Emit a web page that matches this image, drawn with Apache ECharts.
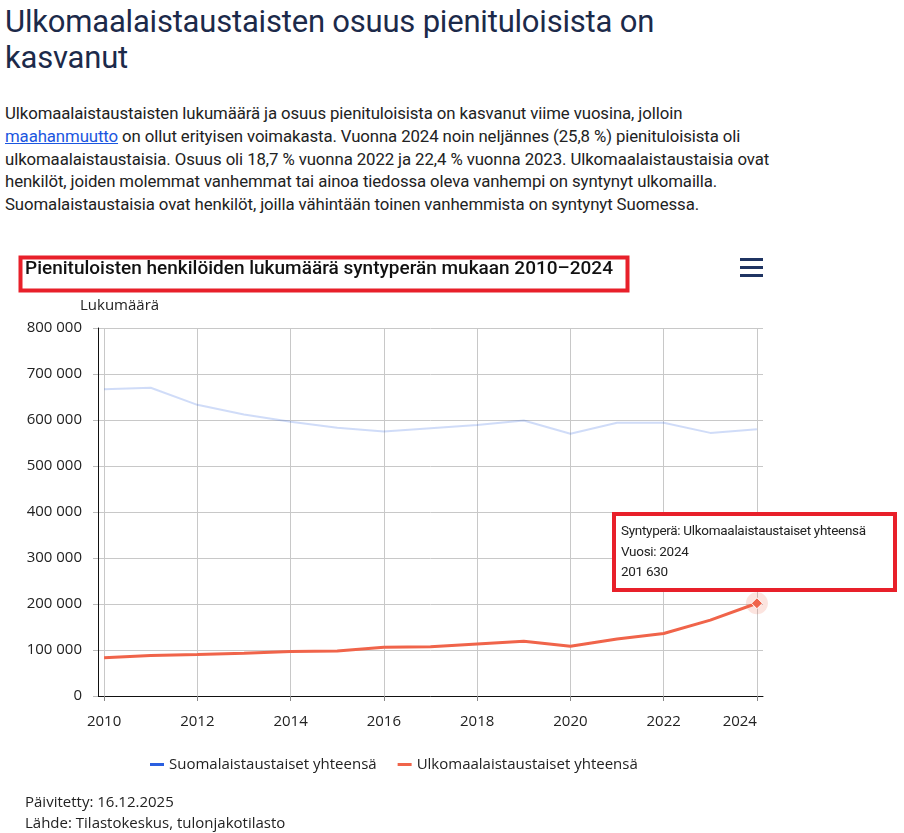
<!DOCTYPE html>
<html>
<head>
<meta charset="utf-8">
<script src="https://cdn.jsdelivr.net/npm/echarts@6/dist/echarts.min.js"></script>
<style>
  html,body{margin:0;padding:0;background:#fff;width:904px;height:833px;overflow:hidden;}
  #h1{position:absolute;left:5px;top:4px;margin:0;font-family:Roboto,sans-serif;font-weight:400;font-size:31px;line-height:36px;color:#1c2a4a;white-space:nowrap;letter-spacing:-0.2px;}
  #p{position:absolute;left:5px;top:102px;margin:0;font-family:Roboto,sans-serif;font-size:16.8px;line-height:22.8px;color:#222;white-space:nowrap;letter-spacing:-0.1px;}
  #p a{color:#1a56e0;text-decoration:underline;}
  #chart{position:absolute;left:0;top:240px;width:904px;height:593px;}
</style>
</head>
<body>
<h1 id="h1">Ulkomaalaistaustaisten osuus pienituloisista on<br>kasvanut</h1>
<p id="p">Ulkomaalaistaustaisten lukumäärä ja osuus pienituloisista on kasvanut viime vuosina, jolloin<br><a href="#">maahanmuutto</a> on ollut erityisen voimakasta. Vuonna 2024 noin neljännes (25,8 %) pienituloisista oli<br>ulkomaalaistaustaisia. Osuus oli 18,7 % vuonna 2022 ja 22,4 % vuonna 2023. Ulkomaalaistaustaisia ovat<br>henkilöt, joiden molemmat vanhemmat tai ainoa tiedossa oleva vanhempi on syntynyt ulkomailla.<br>Suomalaistaustaisia ovat henkilöt, joilla vähintään toinen vanhemmista on syntynyt Suomessa.</p>
<div id="chart"></div>
<script>
const years = [2010, 2011, 2012, 2013, 2014, 2015, 2016, 2017, 2018, 2019, 2020, 2021, 2022, 2023, 2024];
const suomalaiset = [667000, 670000, 633000, 612000, 596000, 583000, 575000, 582000, 589000, 599000, 570000, 594000, 594000, 572000, 580000];
const ulkomaalaiset = [83000, 88000, 90000, 93000, 97000, 98000, 106000, 107000, 113000, 119000, 108000, 124000, 136000, 165000, 201630];
const seriesNames = ['Suomalaistaustaiset yhteensä', 'Ulkomaalaistaustaiset yhteensä'];
const xTickYears = [2010, 2012, 2014, 2016, 2018, 2020, 2022, 2024];
const chartTitle = 'Pienituloisten henkilöiden lukumäärä syntyperän mukaan 2010–2024';
const yAxisName = 'Lukumäärä';
const footerLines = ['Päivitetty: 16.12.2025', 'Lähde: Tilastokeskus, tulonjakotilasto'];

const BLUE = '#2a5fe0', ORANGE = '#f0644a';
const fmt = v => String(Math.round(v)).replace(/\B(?=(\d{3})+(?!\d))/g, ' ');
const pairs = arr => arr.map((v, i) => [years[i], v]);
const last = years.length - 1;

const chart = echarts.init(document.getElementById('chart'));
const axisFont = {fontFamily: '"Open Sans", sans-serif', fontSize: 15, color: '#222'};

chart.setOption({
  animation: false,
  grid: {left: 98, right: 141, top: 88, bottom: 137},
  tooltip: {
    trigger: 'item',
    alwaysShowContent: true,
    transitionDuration: 0,
    backgroundColor: '#fff',
    borderColor: '#e8202a',
    borderWidth: 4,
    padding: [4, 5],
    textStyle: {fontFamily: 'Roboto, sans-serif', fontSize: 13.5, color: '#222', lineHeight: 20},
    extraCssText: 'width:285px;height:80px;box-sizing:border-box;border-radius:0;box-shadow:none;line-height:20.5px;letter-spacing:-0.3px;',
    position: () => [612, 272],
    formatter: p => 'Syntyperä: ' + p.seriesName + '<br>Vuosi: ' + p.value[0] + '<br>' + fmt(p.value[1])
  },
  legend: {
    left: 145, top: 512,
    icon: 'rect', itemWidth: 14, itemHeight: 3, itemGap: 21,
    textStyle: {fontFamily: '"Open Sans", sans-serif', fontSize: 15, color: '#222'},
    data: [
      {name: seriesNames[0], itemStyle: {color: BLUE, opacity: 1}},
      {name: seriesNames[1], itemStyle: {color: ORANGE, opacity: 1}}
    ]
  },
  xAxis: {
    type: 'value',
    min: 2009.87, max: 2024.13,
    splitNumber: 7,
    axisLine: {show: true, lineStyle: {color: '#111', width: 1}},
    axisTick: {show: true, length: 5, lineStyle: {color: '#888'}, customValues: xTickYears},
    axisLabel: Object.assign({margin: 18, customValues: xTickYears, alignMaxLabel: 'right', formatter: v => String(v)}, axisFont),
    splitLine: {show: true, showMinLine: true, showMaxLine: true, lineStyle: {color: '#c8c8c8', width: 1}}
  },
  yAxis: {
    type: 'value',
    min: 0, max: 800000, interval: 100000,
    name: yAxisName,
    nameLocation: 'end',
    nameGap: 15,
    nameTextStyle: {fontFamily: '"Open Sans", sans-serif', fontSize: 15, color: '#222', align: 'left', padding: [0, 0, 0, -18]},
    axisLine: {show: true, lineStyle: {color: '#111', width: 1}},
    axisTick: {show: true, length: 5, lineStyle: {color: '#bbb'}},
    axisLabel: Object.assign({margin: 16, formatter: v => fmt(v)}, axisFont),
    splitLine: {show: true, lineStyle: {color: '#c8c8c8', width: 1}}
  },
  series: [
    {
      name: seriesNames[0], type: 'line', data: pairs(suomalaiset),
      showSymbol: false, symbol: 'none',
      itemStyle: {color: BLUE},
      lineStyle: {color: BLUE, width: 2, opacity: 0.22}
    },
    {
      name: 'halo', type: 'scatter', data: [[years[last], ulkomaalaiset[last]]],
      symbol: 'circle', symbolSize: 22, silent: true, tooltip: {show: false},
      itemStyle: {color: 'rgba(240,100,74,0.22)'}, z: 3
    },
    {
      name: seriesNames[1], type: 'line',
      data: pairs(ulkomaalaiset).map((d, i) => i === last ? {value: d, symbol: 'diamond', symbolSize: 11, itemStyle: {color: ORANGE, borderColor: '#fff', borderWidth: 1}} : {value: d, symbol: 'none'}),
      showSymbol: true, showAllSymbol: true,
      itemStyle: {color: ORANGE},
      lineStyle: {color: ORANGE, width: 3}, z: 4
    }
  ],
  graphic: [
    {type: 'rect', left: 18, top: 15, shape: {width: 607, height: 33}, style: {fill: 'none', stroke: '#e8202a', lineWidth: 4}},
    {type: 'text', left: 25, top: 20, style: {text: chartTitle, font: '500 19px Roboto, sans-serif', fill: '#111'}},
    {type: 'rect', left: 740, top: 18, shape: {width: 23, height: 3}, style: {fill: '#1f3462'}},
    {type: 'rect', left: 740, top: 26, shape: {width: 23, height: 3}, style: {fill: '#1f3462'}},
    {type: 'rect', left: 740, top: 34, shape: {width: 23, height: 3}, style: {fill: '#1f3462'}},
    {type: 'text', left: 25, top: 555, style: {text: footerLines[0], font: '15px "Open Sans", sans-serif', fill: '#222'}},
    {type: 'text', left: 25, top: 576, style: {text: footerLines[1], font: '15px "Open Sans", sans-serif', fill: '#222'}}
  ]
});
chart.dispatchAction({type: 'showTip', seriesIndex: 2, dataIndex: last});
</script>
</body>
</html>
